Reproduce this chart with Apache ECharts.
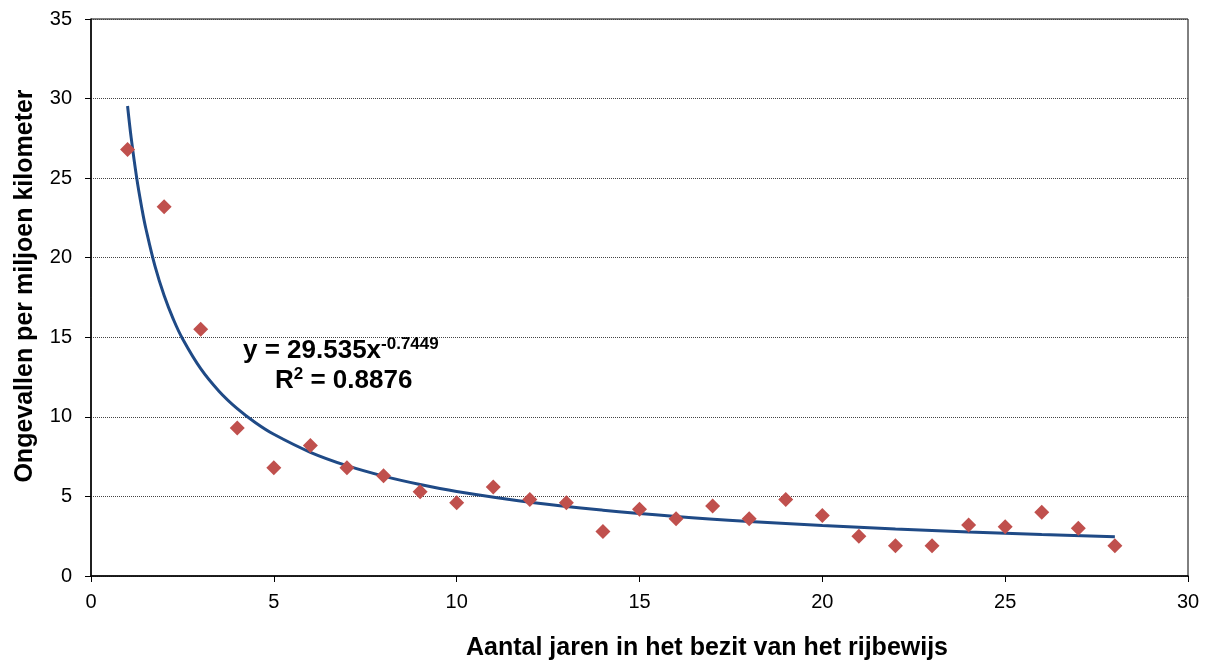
<!DOCTYPE html>
<html>
<head>
<meta charset="utf-8">
<script src="https://cdn.jsdelivr.net/npm/echarts@6/dist/echarts.min.js"></script>
<style>
html,body{margin:0;padding:0;background:#fff;}
#chart{width:1210px;height:664px;}
</style>
</head>
<body>
<div id="chart"></div>
<script>
// Observed data: years with driving licence vs accidents per million km
var years = [1,2,3,4,5,6,7,8,9,10,11,12,13,14,15,16,17,18,19,20,21,22,23,24,25,26,27,28];
var accidents = [26.8,23.2,15.5,9.3,6.8,8.2,6.8,6.3,5.3,4.6,5.6,4.8,4.6,2.8,4.2,3.6,4.4,3.6,4.8,3.8,2.5,1.9,1.9,3.2,3.1,4.0,3.0,1.9];

// Power trendline (y = 29.535x^-0.7449)
var trendX = [1,1.1,1.25,1.4,1.5,1.75,2,2.25,2.5,3,3.5,4,4.5,5,6,7,8,9,10,12,14,16,18,20,22,24,26,28];
var trendY = [29.535,27.511,25.012,22.987,21.836,19.467,17.624,16.143,14.925,13.029,11.616,10.517,9.633,8.905,7.775,6.932,6.275,5.748,5.314,4.639,4.136,3.744,3.430,3.171,2.953,2.768,2.608,2.468];

var yTicks = [0,5,10,15,20,25,30,35];
var xTicks = [0,5,10,15,20,25,30];

var eqText = '29.535x';
var eqExp = '-0.7449';
var r2Text = '0.8876';
var xTitle = 'Aantal jaren in het bezit van het rijbewijs';
var yTitle = 'Ongevallen per miljoen kilometer';

var scatterData = years.map(function(x,i){return [x, accidents[i]];});
var trendData = trendX.map(function(x,i){return [x, trendY[i]];});

var chart = echarts.init(document.getElementById('chart'), null, {renderer:'canvas'});
var font = 'Arial, "Liberation Sans", sans-serif';
var richEq = {
  m:{fontFamily:font,fontSize:26,fontWeight:'bold',fill:'#000',lineHeight:30},
  s:{fontFamily:font,fontSize:17,fontWeight:'bold',fill:'#000',lineHeight:30,verticalAlign:'top',padding:[0,0,12,0]}
};
chart.setOption({
  animation:false,
  backgroundColor:'#ffffff',
  grid:{left:91,right:22,top:19,bottom:88,show:true,borderColor:'#000',borderWidth:1},
  xAxis:{
    type:'value',min:xTicks[0],max:xTicks[xTicks.length-1],interval:5,
    axisLine:{show:true,onZero:false,lineStyle:{color:'#000',width:1.5}},
    axisTick:{show:true,inside:false,length:6,lineStyle:{color:'#000'}},
    axisLabel:{color:'#000',fontFamily:font,fontSize:20,margin:16},
    splitLine:{show:false}
  },
  yAxis:{
    type:'value',min:yTicks[0],max:yTicks[yTicks.length-1],interval:5,
    axisLine:{show:true,onZero:false,lineStyle:{color:'#000',width:1.5}},
    axisTick:{show:true,inside:false,length:6,lineStyle:{color:'#000'}},
    axisLabel:{color:'#000',fontFamily:font,fontSize:20,margin:19},
    splitLine:{show:true,lineStyle:{color:'#444',type:[1,1],width:1}}
  },
  series:[
    {
      type:'scatter',data:scatterData,symbol:'diamond',symbolSize:15,
      itemStyle:{color:'#C0504D',opacity:1},z:3
    },
    {
      type:'line',data:trendData,showSymbol:false,smooth:0.4,
      lineStyle:{color:'#1F4A86',width:3},z:2
    }
  ],
  graphic:[
    {
      type:'text',left:243,top:336,
      style:{text:'{m|y = '+eqText+'}{s|'+eqExp+'}',rich:richEq}
    },
    {
      type:'text',left:275,top:366,
      style:{text:'{m|R}{s|2}{m| = '+r2Text+'}',rich:richEq}
    },
    {
      type:'text',x:707,y:648,
      style:{text:xTitle,fontFamily:font,fontSize:25,fontWeight:'bold',fill:'#000',align:'center',verticalAlign:'middle'}
    },
    {
      type:'text',x:25,y:286,rotation:Math.PI/2,
      style:{text:yTitle,fontFamily:font,fontSize:25,fontWeight:'bold',fill:'#000',align:'center',verticalAlign:'middle'}
    }
  ]
});
</script>
</body>
</html>
